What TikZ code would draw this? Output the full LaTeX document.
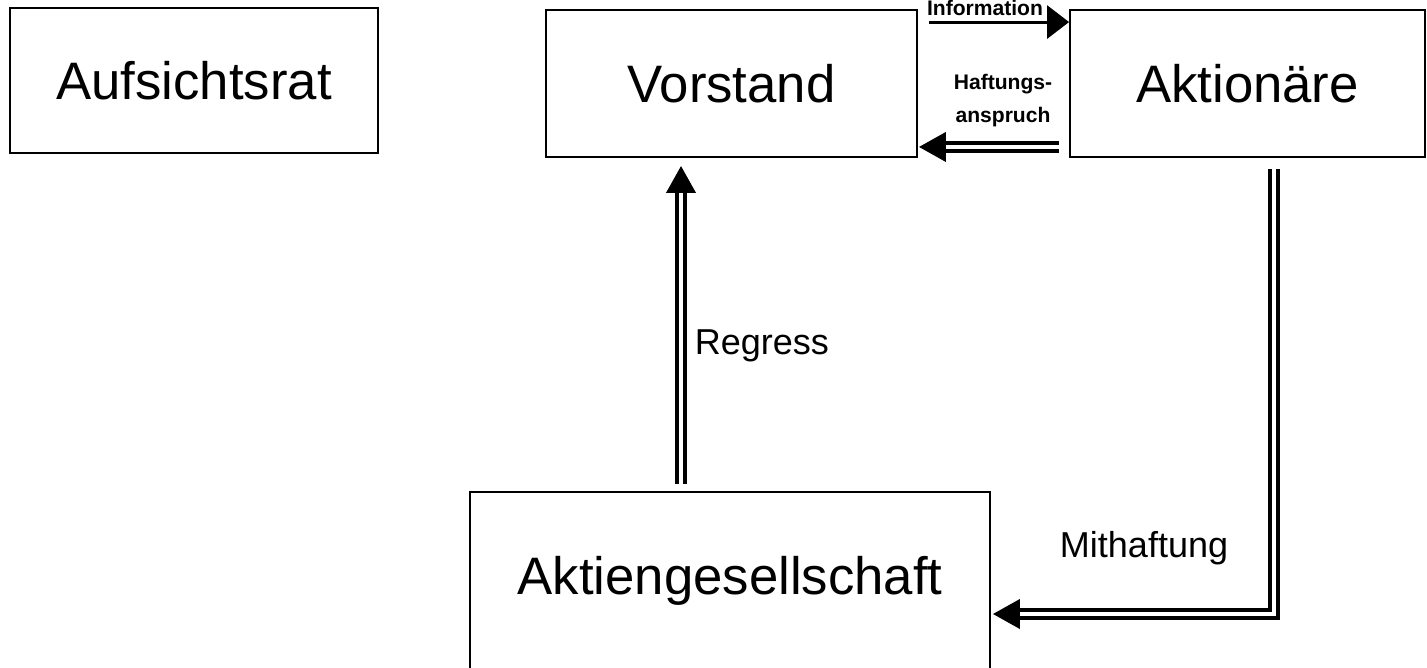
\documentclass[tikz,border=0pt]{standalone}
\usepackage{fontspec}
\setmainfont{Liberation Sans}
\usetikzlibrary{arrows.meta,positioning,calc}

\begin{document}
\begin{tikzpicture}[
    x=0.02cm, y=-0.02cm,
    party/.style={rectangle, draw, line width=1.1pt, text centered, font=\fontsize{30}{36}\selectfont},
    infoarrow/.style={-{Triangle[length=0.44cm, width=0.66cm]}, line width=1.7pt},
    dblarrow/.style={-{Triangle[length=0.54cm, width=0.58cm]}, double, line width=2.3pt, double distance=1.8pt},
    lbl/.style={font=\fontsize{20.5}{24}\selectfont},
    smalllbl/.style={font=\fontsize{12}{18.7}\selectfont\bfseries, align=center}
]
\useasboundingbox (0,0) rectangle (1427,667);

\node[party, minimum width=7.36cm, minimum height=2.9cm] (aufsichtsrat) at (194,80.5) {Aufsichtsrat};
\node[party, minimum width=7.42cm, minimum height=2.94cm] (vorstand) at (731.5,83.5) {Vorstand};
\node[party, minimum width=7.1cm, minimum height=2.94cm] (aktionaere) at (1247.5,83.5) {Aktionäre};
\node[party, minimum width=10.4cm, minimum height=3.56cm] (ag) at (730,581) {Aktiengesellschaft};

% Vorstand <-> Aktionaere
\draw[infoarrow] ([xshift=0.22cm, yshift=-0.26cm]vorstand.north east) -- ([yshift=-0.26cm]aktionaere.north west)
    node[smalllbl, midway, above, xshift=-0.28cm, yshift=-0.02cm] {Information};
\draw[dblarrow] ([xshift=-0.2cm, yshift=0.22cm]aktionaere.south west) -- ([xshift=0.02cm, yshift=0.22cm]vorstand.south east)
    node[smalllbl, midway, above, xshift=0.28cm, yshift=0.25cm] {Haftungs-\\anspruch};

% Regress
\coordinate (regbase) at ([xshift=-0.98cm, yshift=0.14cm]ag.north);
\draw[dblarrow] (regbase) -- ([yshift=-0.16cm]regbase |- vorstand.south)
    node[lbl, pos=0.45, right, xshift=0.12cm, yshift=-0.1cm] {Regress};

% Mithaftung
\draw[dblarrow] ([xshift=0.53cm, yshift=-0.22cm]aktionaere.south) |- ([xshift=0.04cm, yshift=-0.66cm]ag.east)
    node[lbl, pos=0.5, above left, xshift=-0.76cm, yshift=0.82cm] {Mithaftung};

\end{tikzpicture}
\end{document}
